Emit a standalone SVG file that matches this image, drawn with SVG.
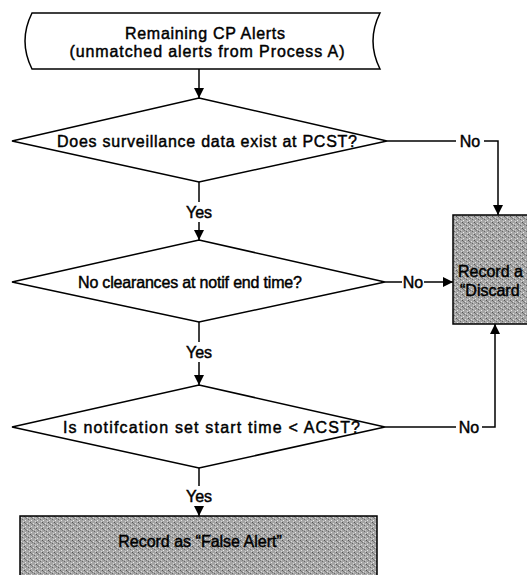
<svg xmlns="http://www.w3.org/2000/svg" width="527" height="575" viewBox="0 0 527 575">
<style>
.ln{fill:none;stroke:#000;stroke-width:1.5}
.sh{fill:#fff;stroke:#000;stroke-width:1.5}
.gr{fill:url(#stip);stroke:#000;stroke-width:1.5}
text{font-family:"Liberation Sans",Arial,sans-serif;font-size:16px;fill:#000;stroke:#000;stroke-width:0.45}
.c{text-anchor:middle}
</style>
<defs>
<marker id="ah" viewBox="0 0 10 10" refX="10" refY="5" markerWidth="10" markerHeight="10" markerUnits="userSpaceOnUse" orient="auto">
<path d="M0,0 L10,5 L0,10 Z" fill="#000"/>
</marker>
<pattern id="stip" width="6" height="6" patternUnits="userSpaceOnUse">
<rect width="6" height="6" fill="#a6a6a6"/>
<rect x="0" y="0" width="1" height="1" fill="#555"/>
<rect x="3" y="1" width="1" height="1" fill="#e0e0e0"/>
<rect x="4" y="3" width="1" height="1" fill="#666"/>
<rect x="1" y="4" width="1" height="1" fill="#e8e8e8"/>
<rect x="2" y="2" width="1" height="1" fill="#777"/>
<rect x="5" y="5" width="1" height="1" fill="#d8d8d8"/>
<rect x="1" y="1" width="1" height="1" fill="#777"/>
<rect x="5" y="2" width="1" height="1" fill="#ccc"/>
</pattern>
</defs>
<g id="connectors">
<path class="ln" d="M199,69 V98" marker-end="url(#ah)"/>
<path class="ln" d="M387,141 H456"/>
<path class="ln" d="M484,141 H498 V215" marker-end="url(#ah)"/>
<path class="ln" d="M199,182 V202"/>
<path class="ln" d="M199,222 V240" marker-end="url(#ah)"/>
<path class="ln" d="M385,282 H402"/>
<path class="ln" d="M424,282 H453" marker-end="url(#ah)"/>
<path class="ln" d="M199,322 V342"/>
<path class="ln" d="M199,362 V385" marker-end="url(#ah)"/>
<path class="ln" d="M385,427 H456"/>
<path class="ln" d="M482,427 H495 V324" marker-end="url(#ah)"/>
<path class="ln" d="M199,468 V486"/>
<path class="ln" d="M199,506 V516" marker-end="url(#ah)"/>
<text class="c" x="470" y="147">No</text>
<text class="c" x="413" y="288">No</text>
<text class="c" x="469" y="433">No</text>
<text class="c" x="199" y="218">Yes</text>
<text class="c" x="199" y="358">Yes</text>
<text class="c" x="199" y="502">Yes</text>
</g>
<g id="start">
<path class="sh" d="M32,13 L380,13 Q366,41 380,69 L32,69 Q18,41 32,13 Z"/>
<text class="c" x="205" y="39" textLength="160" lengthAdjust="spacing">Remaining CP Alerts</text>
<text class="c" x="207" y="57" textLength="275" lengthAdjust="spacing">(unmatched alerts from Process A)</text>
</g>
<g id="decision1">
<polygon class="sh" points="199,98 387,141 199,182 12,141"/>
<text x="57" y="147" textLength="300" lengthAdjust="spacing">Does surveillance data exist at PCST?</text>
</g>
<g id="decision2">
<polygon class="sh" points="199,240 385,282 199,322 12,282"/>
<text x="78" y="288" textLength="224" lengthAdjust="spacing">No clearances at notif end time?</text>
</g>
<g id="decision3">
<polygon class="sh" points="199,385 385,427 199,468 12,427"/>
<text x="63" y="433" textLength="297" lengthAdjust="spacing">Is notifcation set start time &lt; ACST?</text>
</g>
<g id="discarded">
<rect class="gr" x="453" y="215" width="90" height="109"/>
<text x="458" y="277">Record a</text>
<text x="460" y="296">“Discard</text>
</g>
<g id="falsealert">
<rect class="gr" x="20" y="516" width="357" height="70"/>
<text class="c" x="200" y="547">Record as “False Alert”</text>
</g>
</svg>
